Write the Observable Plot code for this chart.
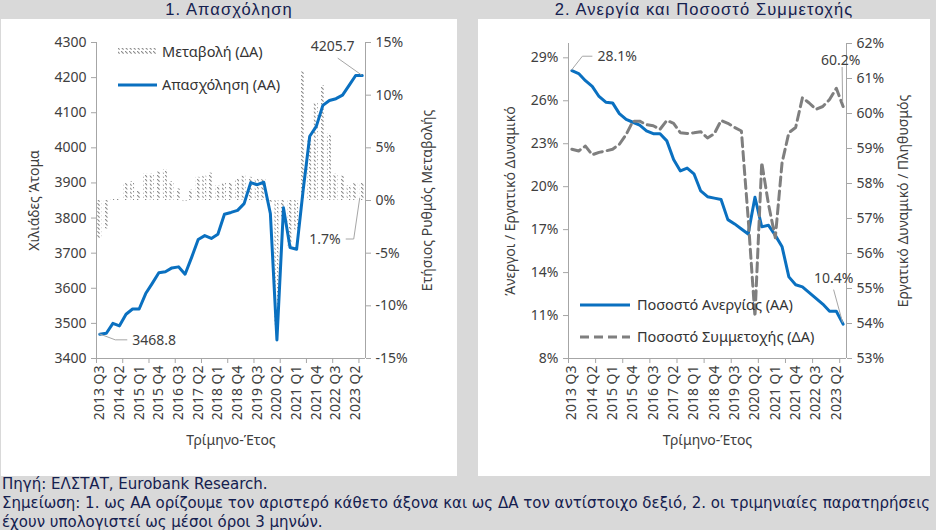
<!DOCTYPE html>
<html><head><meta charset="utf-8">
<script src="https://cdn.jsdelivr.net/npm/d3@7"></script>
<script src="https://cdn.jsdelivr.net/npm/@observablehq/plot@0.6"></script>
<style>
html,body{margin:0;padding:0;background:#d9d9d9;}
body{width:936px;height:530px;position:relative;overflow:hidden;font-family:"Noto Sans",sans-serif;}
.panel{position:absolute;top:19px;height:457px;background:#fff;z-index:1;}
.title{position:absolute;top:0px;height:19px;line-height:19px;text-align:center;font-family:"Liberation Sans",sans-serif;font-size:16.5px;letter-spacing:1.1px;color:#14204f;z-index:2;}
.footer{position:absolute;left:2px;top:475px;font-family:"DejaVu Sans",sans-serif;font-size:15px;line-height:19px;color:#14204f;white-space:nowrap;}
</style></head><body>
<div class="panel" id="p1" style="left:1px;width:456px"></div>
<div class="panel" id="p2" style="left:478px;width:452px"></div>
<div class="title" style="left:1px;width:456px">1. Απασχόληση</div>
<div class="title" style="left:478px;width:452px">2. Ανεργία και Ποσοστό Συμμετοχής</div>
<div class="footer">Πηγή: ΕΛΣΤΑΤ, Eurobank Research.<br>Σημείωση: 1. ως ΑΑ ορίζουμε τον αριστερό κάθετο άξονα και ως ΔΑ τον αντίστοιχο δεξιό, 2. οι τριμηνιαίες παρατηρήσεις<br>έχουν υπολογιστεί ως μέσοι όροι 3 μηνών.</div>
<script>
const quarters = ["2013 Q3","2013 Q4","2014 Q1","2014 Q2","2014 Q3","2014 Q4","2015 Q1","2015 Q2","2015 Q3","2015 Q4",
"2016 Q1","2016 Q2","2016 Q3","2016 Q4","2017 Q1","2017 Q2","2017 Q3","2017 Q4","2018 Q1","2018 Q2","2018 Q3","2018 Q4",
"2019 Q1","2019 Q2","2019 Q3","2019 Q4","2020 Q1","2020 Q2","2020 Q3","2020 Q4","2021 Q1","2021 Q2","2021 Q3","2021 Q4",
"2022 Q1","2022 Q2","2022 Q3","2022 Q4","2023 Q1","2023 Q2","2023 Q3"];
const employment = [3468.8,3472,3500,3493,3526,3541,3541,3585,3614,3644,3647,3658,3661,3640,3688,3739,3750,3742,3754,3811,3816,3822,3841,3901,3895,3902,3813,3453,3829,3716,3711,3880,4033,4061,4121,4135,4140,4150,4178,4206,4205.7];
const employmentChange = [-3.6,-2.7,0.1,0.2,1.6,1.8,0.9,2.5,2.5,2.7,2.9,1.8,1.1,-0.1,1.0,2.2,2.3,2.6,1.4,1.7,1.7,2.0,2.3,2.2,2.0,2.0,-0.3,-11.8,-1.8,-4.5,-2.8,12.2,5.8,9.2,10.9,6.3,2.5,2.3,1.4,1.6,1.7];
const unemployment = [28.1,27.9,27.4,27.0,26.3,25.9,25.85,25.1,24.7,24.5,24.3,23.9,23.7,23.7,23.2,21.9,21.1,21.3,20.9,19.7,19.3,19.2,19.1,17.7,17.4,17.05,16.7,19.26,17.2,17.3,16.6,15.8,13.7,13.15,13.0,12.6,12.2,11.8,11.3,11.3,10.4];
const participation = [58.98,58.93,59.07,58.82,58.89,58.93,58.98,59.12,59.40,59.78,59.78,59.68,59.65,59.55,59.80,59.72,59.45,59.43,59.45,59.48,59.30,59.42,59.80,59.72,59.60,59.50,57.0,54.2,58.6,57.4,56.45,58.6,59.45,59.6,60.45,60.3,60.12,60.2,60.4,60.72,60.2];
const empTicks = [3400,3500,3600,3700,3800,3900,4000,4100,4200,4300];
const changeTicks = [-15,-10,-5,0,5,10,15];
const unempTicks = [8,11,14,17,20,23,26,29];
const partTicks = [53,54,55,56,57,58,59,60,61,62];
const labelEvery = 3, tickEvery = 4;

const blue = "#0a70c0", grey = "#7f7f7f", axisGrey = "#a6a6a6", txt = "#404040";
const font = '"Noto Sans", sans-serif';
const n = quarters.length;
const labelPos = quarters.map((q,i)=>i).filter(i=>i%labelEvery===0).map(i=>i+0.5);
const boundTicks = d3.range(0, n, tickEvery);

// ---- chart 1
const E = {lo:3400, hi:4300, rlo:-15, rhi:15};
const toE = r => E.lo + (r - E.rlo)/(E.rhi - E.rlo)*(E.hi - E.lo);
const fromE = v => E.rlo + (v - E.lo)/(E.hi - E.lo)*(E.rhi - E.rlo);
const empData = quarters.map((q,i)=>({i, q, v: employment[i], c: employmentChange[i]}));

const commonAxes = (fmtL, ticksL, ticksR, fmtR) => [
  Plot.axisY({ticks: ticksL, tickFormat: fmtL, tickSize: 5, tickPadding: 5, stroke: axisGrey, fill: txt, fontSize: 14, label: null}),
  Plot.axisY({anchor: "right", ticks: ticksR, tickFormat: fmtR, tickSize: 5, tickPadding: 5, stroke: axisGrey, fill: txt, fontSize: 14, label: null}),
  Plot.axisX({ticks: labelPos, tickFormat: v => quarters[Math.floor(v)], tickRotate: -90, tickSize: 0, tickPadding: 7, fill: txt, fontSize: 14, label: null}),
  Plot.axisX({ticks: boundTicks, tickFormat: () => "", tickSize: 5, stroke: axisGrey, label: null}),
];

const p1 = Plot.plot({
  width: 456, height: 457, marginLeft: 95, marginRight: 92, marginTop: 23, marginBottom: 118,
  style: {fontFamily: font, fontSize: "14px", color: txt, background: "#fff", overflow: "visible"},
  x: {domain: [0, n]}, y: {domain: [E.lo, E.hi]},
  marks: [
    Plot.rect(empData, {x1: d => d.i + 0.2, x2: d => d.i + 0.8, y1: () => toE(0), y2: d => toE(d.c), fill: grey}),
    Plot.ruleX([0, n], {stroke: axisGrey}),
    Plot.ruleY([E.lo], {stroke: axisGrey}),
    ...commonAxes(d => String(d), empTicks, changeTicks.map(toE), v => Math.round(fromE(v)) + "%"),
    Plot.line(empData, {x: d => d.i + 0.5, y: "v", stroke: blue, strokeWidth: 3, strokeLinejoin: "round"}),
    Plot.text(["Χιλιάδες Άτομα"], {frameAnchor: "left", dx: -62, rotate: -90, textAnchor: "middle", fontSize: 14, fill: txt}),
    Plot.text(["Ετήσιος Ρυθμός Μεταβολής"], {frameAnchor: "right", dx: 62, rotate: -90, textAnchor: "middle", fontSize: 14, fill: txt}),
    Plot.text(["Τρίμηνο-Έτος"], {frameAnchor: "bottom", dy: 86, textAnchor: "middle", fontSize: 14, fill: txt}),
  ]
});
document.getElementById("p1").appendChild(p1);

// ---- chart 2
const U = {lo:8, hi:30, rlo:53, rhi:62};
const toU = r => U.lo + (r - U.rlo)/(U.rhi - U.rlo)*(U.hi - U.lo);
const fromU = v => U.rlo + (v - U.lo)/(U.hi - U.lo)*(U.rhi - U.rlo);
const uData = quarters.map((q,i)=>({i, q, u: unemployment[i], p: participation[i]}));

const p2 = Plot.plot({
  width: 452, height: 457, marginLeft: 90, marginRight: 84, marginTop: 24, marginBottom: 118,
  style: {fontFamily: font, fontSize: "14px", color: txt, background: "#fff", overflow: "visible"},
  x: {domain: [0, n]}, y: {domain: [U.lo, U.hi]},
  marks: [
    Plot.ruleX([0, n], {stroke: axisGrey}),
    Plot.ruleY([U.lo], {stroke: axisGrey}),
    ...commonAxes(d => d + "%", unempTicks, partTicks.map(toU), v => Math.round(fromU(v)) + "%"),
    Plot.line(uData, {x: d => d.i + 0.5, y: "u", stroke: blue, strokeWidth: 3, strokeLinejoin: "round"}),
    Plot.line(uData, {x: d => d.i + 0.5, y: d => toU(d.p), stroke: grey, strokeWidth: 3, strokeDasharray: "9,5", strokeLinejoin: "round"}),
    Plot.text(["Άνεργοι / Εργατικό Δυναμικό"], {frameAnchor: "left", dx: -58, rotate: -90, textAnchor: "middle", fontSize: 14, fill: txt}),
    Plot.text(["Εργατικό Δυναμικό / Πληθυσμός"], {frameAnchor: "right", dx: 57, rotate: -90, textAnchor: "middle", fontSize: 14, fill: txt}),
    Plot.text(["Τρίμηνο-Έτος"], {frameAnchor: "bottom", dy: 86, textAnchor: "middle", fontSize: 14, fill: txt}),
  ]
});
document.getElementById("p2").appendChild(p2);

// ---- hatch pattern, legends, annotations
const s1 = d3.select(p1);
s1.insert("defs", ":first-child").html(
  '<pattern id="hatch" patternUnits="userSpaceOnUse" width="4" height="4">' +
  '<path d="M0,0L2.6,2.6" stroke="#8a8a8a" stroke-width="1.1"/></pattern>');
s1.selectAll('g[aria-label="rect"] rect').attr("fill", "url(#hatch)");
const s2 = d3.select(p2);

function leader(s, pts){
  s.append("polyline").attr("points", pts.map(p => p.join(",")).join(" "))
    .attr("fill", "none").attr("stroke", axisGrey).attr("stroke-width", 1);
}
function label(s, x, y, t, anchor){
  s.append("text").attr("x", x).attr("y", y).attr("dy", "0.35em").attr("text-anchor", anchor)
    .attr("font-size", 14).attr("fill", txt).text(t);
}
function legendText(s, x, y, t){
  s.append("text").attr("x", x).attr("y", y).attr("dy", "0.35em").attr("text-anchor", "start")
    .attr("font-size", 14.5).attr("fill", "#333").text(t);
}

// chart 1
{
  const X = v => p1.scale("x").apply(v), Y = v => p1.scale("y").apply(v);
  const last = n - 1;
  const pl = [X(last + 0.5), Y(employment[last])];
  leader(s1, [pl, [pl[0] - 24, pl[1] - 17]]);
  label(s1, pl[0] - 29, pl[1] - 29, employment[last].toFixed(1), "middle");
  const pf = [X(0.5), Y(employment[0])];
  leader(s1, [pf, [pf[0] + 16, pf[1] + 6], [pf[0] + 28, pf[1] + 6]]);
  label(s1, pf[0] + 33, pf[1] + 6, employment[0].toFixed(1), "start");
  const pb = [X(last + 0.5) - 2, Y(toE(0)) - 2];
  leader(s1, [pb, [pb[0] - 6, pb[1] + 41], [pb[0] - 14, pb[1] + 41]]);
  label(s1, pb[0] - 19, pb[1] + 41, employmentChange[last].toFixed(1) + "%", "end");
  // legend
  s1.append("rect").attr("x", 117).attr("y", 29).attr("width", 39).attr("height", 7).attr("fill", "url(#hatch)");
  legendText(s1, 161, 33, "Μεταβολή (ΔΑ)");
  s1.append("line").attr("x1", 117).attr("x2", 156).attr("y1", 66).attr("y2", 66).attr("stroke", blue).attr("stroke-width", 3);
  legendText(s1, 161, 66, "Απασχόληση (ΑΑ)");
}
// chart 2
{
  const X = v => p2.scale("x").apply(v), Y = v => p2.scale("y").apply(v);
  const last = n - 1;
  const pf = [X(0.5), Y(unemployment[0])];
  leader(s2, [pf, [pf[0] + 11, pf[1] - 14], [pf[0] + 21, pf[1] - 14]]);
  label(s2, pf[0] + 26, pf[1] - 14, unemployment[0].toFixed(1) + "%", "start");
  const pp = [X(last + 0.5), Y(toU(participation[last]))];
  leader(s2, [[pp[0], pp[1] - 4], [pp[0] - 0.5, pp[1] - 39]]);
  label(s2, pp[0] - 2, pp[1] - 46, participation[last].toFixed(1) + "%", "middle");
  const pu = [X(last + 0.5), Y(unemployment[last])];
  leader(s2, [[pu[0], pu[1] - 1], [pu[0] - 9, pu[1] - 34]]);
  label(s2, pu[0] - 9, pu[1] - 46, unemployment[last].toFixed(1) + "%", "middle");
  // legend
  s2.append("line").attr("x1", 102).attr("x2", 152).attr("y1", 286).attr("y2", 286).attr("stroke", blue).attr("stroke-width", 3);
  legendText(s2, 159, 286, "Ποσοστό Ανεργίας (ΑΑ)");
  s2.append("line").attr("x1", 102).attr("x2", 152).attr("y1", 318).attr("y2", 318).attr("stroke", grey).attr("stroke-width", 3).attr("stroke-dasharray", "9,5");
  legendText(s2, 159, 318, "Ποσοστό Συμμετοχής (ΔΑ)");
}
</script>
</body></html>
